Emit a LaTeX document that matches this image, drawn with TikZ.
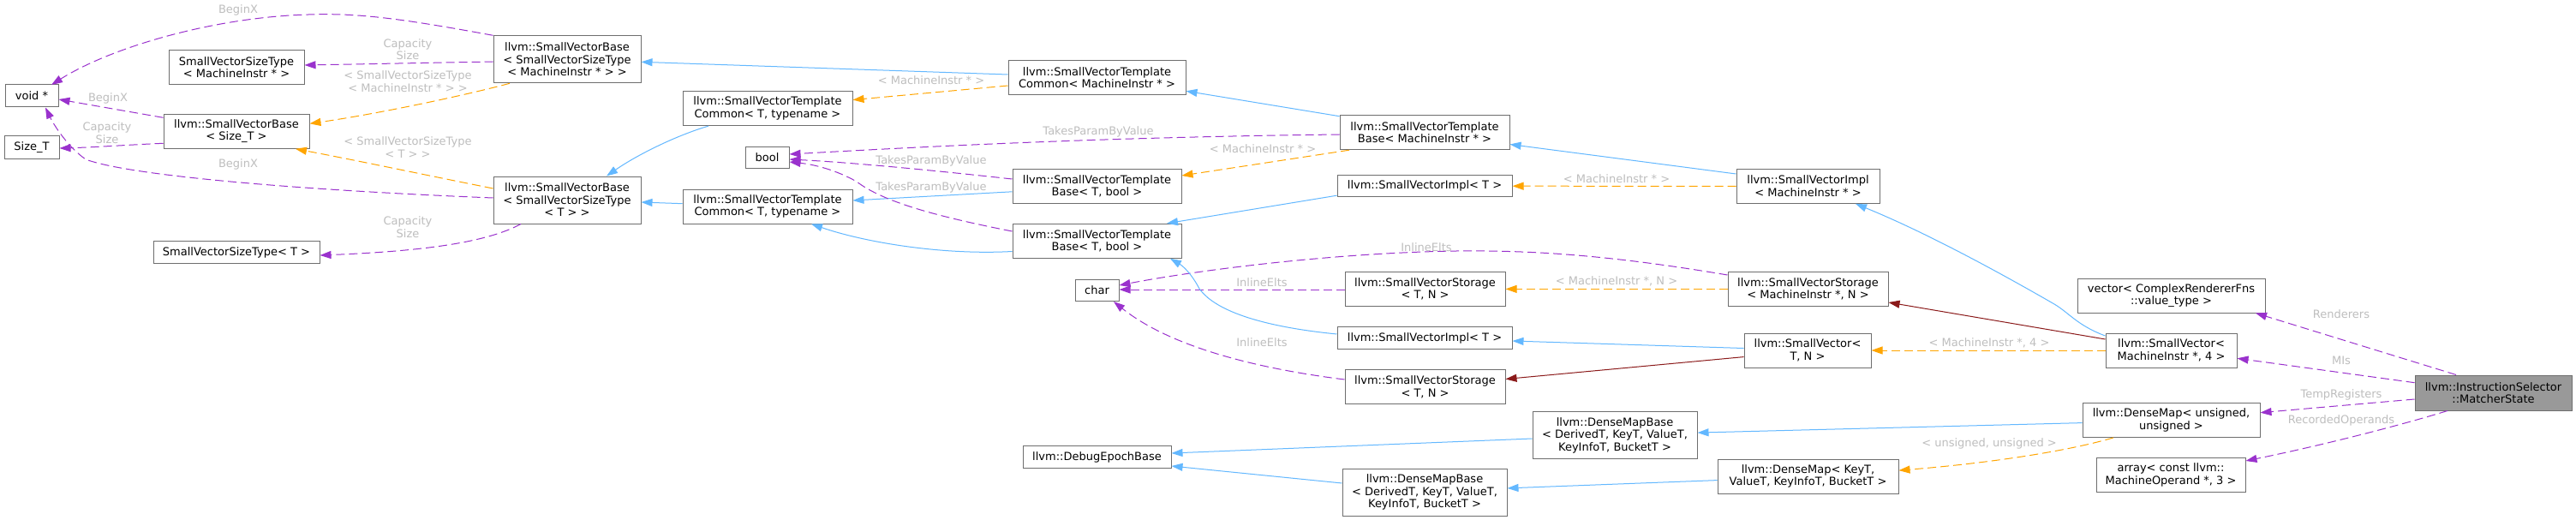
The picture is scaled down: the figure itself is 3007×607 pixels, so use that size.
\documentclass[tikz,border=0pt]{standalone}
\usepackage{fontspec}
\newfontfamily\dvs{DejaVu Sans}
\usetikzlibrary{arrows.meta,calc}
\definecolor{cpurple}{HTML}{9A32CD}
\definecolor{corange}{HTML}{FFA500}
\definecolor{cblue}{HTML}{63B8FF}
\definecolor{cred}{HTML}{8B1A1A}
\definecolor{clabel}{HTML}{BEBEBE}
\definecolor{cborder}{HTML}{6E6E6E}
\definecolor{croot}{HTML}{999999}
\begin{document}
\begin{tikzpicture}[x=1pt,y=-1pt,
  box/.style={draw=cborder, line width=1pt, fill=white, inner sep=0pt, align=center,
    font=\dvs\fontsize{13}{14.5}\selectfont, text=black},
  rootbox/.style={box, fill=croot},
  lbl/.style={font=\dvs\fontsize{13}{14.5}\selectfont, text=clabel, align=center, inner sep=0pt},
  edgebase/.style={line width=1pt, -{Triangle[length=13pt,width=9pt]}},
  member/.style={edgebase, cpurple, dash pattern=on 10pt off 5pt},
  tmpl/.style={edgebase, corange, dash pattern=on 10pt off 5pt},
  inherit/.style={edgebase, cblue},
  priv/.style={edgebase, cred},
]
\fill[white] (0,0) rectangle (3007,607);
\useasboundingbox (0,0) rectangle (3007,607);

% ---------- nodes ----------
\node[box, minimum width=62pt, minimum height=26pt] (voidp) at (37,112) {void *};
\node[box, minimum width=64pt, minimum height=26pt] (sizet) at (37,172) {Size\_T};
\node[box, minimum width=158pt, minimum height=40pt] (svstmi) at (276,78.5) {SmallVectorSizeType\\< MachineInstr * >};
\node[box, minimum width=170pt, minimum height=40pt] (svbsize) at (276,153.3) {llvm::SmallVectorBase\\< Size\_T >};
\node[box, minimum width=194pt, minimum height=25.5pt] (svstt) at (276,294.7) {SmallVectorSizeType< T >};
\node[box, minimum width=172pt, minimum height=55pt] (svbmi) at (662,69.3) {llvm::SmallVectorBase\\< SmallVectorSizeType\\< MachineInstr * > >};
\node[box, minimum width=198pt, minimum height=40pt] (svtct1) at (896,126.6) {llvm::SmallVectorTemplate\\Common< T, typename >};
\node[box, minimum width=51pt, minimum height=25.5pt] (bool) at (895.5,184) {bool};
\node[box, minimum width=172pt, minimum height=55pt] (svbt) at (662,233.5) {llvm::SmallVectorBase\\< SmallVectorSizeType\\< T > >};
\node[box, minimum width=198pt, minimum height=40pt] (svtct2) at (896,241) {llvm::SmallVectorTemplate\\Common< T, typename >};
\node[box, minimum width=207pt, minimum height=40pt] (svtcmi) at (1280.5,90.8) {llvm::SmallVectorTemplate\\Common< MachineInstr * >};
\node[box, minimum width=197pt, minimum height=40pt] (svtbt1) at (1280.5,217.4) {llvm::SmallVectorTemplate\\Base< T, bool >};
\node[box, minimum width=197pt, minimum height=40pt] (svtbt2) at (1280.5,281.3) {llvm::SmallVectorTemplate\\Base< T, bool >};
\node[box, minimum width=51pt, minimum height=25.5pt] (char) at (1280.5,338.8) {char};
\node[box, minimum width=173pt, minimum height=25.5pt] (debug) at (1280.5,533.5) {llvm::DebugEpochBase};
\node[box, minimum width=198pt, minimum height=40pt] (svtbmi) at (1663,154.7) {llvm::SmallVectorTemplate\\Base< MachineInstr * >};
\node[box, minimum width=204pt, minimum height=25.5pt] (svimplt1) at (1663,217.2) {llvm::SmallVectorImpl< T >};
\node[box, minimum width=187pt, minimum height=40pt] (svstort1) at (1663.5,337.4) {llvm::SmallVectorStorage\\< T, N >};
\node[box, minimum width=204pt, minimum height=25.5pt] (svimplt2) at (1663,394.7) {llvm::SmallVectorImpl< T >};
\node[box, minimum width=187pt, minimum height=40pt] (svstort2) at (1663.5,451.8) {llvm::SmallVectorStorage\\< T, N >};
\node[box, minimum width=192pt, minimum height=55pt] (dmb1) at (1885,508.1) {llvm::DenseMapBase\\< DerivedT, KeyT, ValueT,\\KeyInfoT, BucketT >};
\node[box, minimum width=192pt, minimum height=55pt] (dmb2) at (1663,574.9) {llvm::DenseMapBase\\< DerivedT, KeyT, ValueT,\\KeyInfoT, BucketT >};
\node[box, minimum width=167pt, minimum height=40pt] (svimplmi) at (2110.5,217.4) {llvm::SmallVectorImpl\\< MachineInstr * >};
\node[box, minimum width=187pt, minimum height=40pt] (svstormi) at (2110.5,337.4) {llvm::SmallVectorStorage\\< MachineInstr *, N >};
\node[box, minimum width=148pt, minimum height=40pt] (svtn) at (2110,409) {llvm::SmallVector<\\T, N >};
\node[box, minimum width=219pt, minimum height=40pt] (vec) at (2534.5,345) {vector< ComplexRendererFns\\::value\_type >};
\node[box, minimum width=153pt, minimum height=40pt] (svmi4) at (2534.5,409) {llvm::SmallVector<\\MachineInstr *, 4 >};
\node[box, minimum width=207pt, minimum height=40pt] (dmu) at (2534.5,490.4) {llvm::DenseMap< unsigned,\\unsigned >};
\node[box, minimum width=211pt, minimum height=40pt] (dmk) at (2110.5,556.1) {llvm::DenseMap< KeyT,\\ValueT, KeyInfoT, BucketT >};
\node[box, minimum width=174pt, minimum height=40pt] (arr) at (2534,554.6) {array< const llvm::\\MachineOperand *, 3 >};
\node[rootbox, minimum width=183pt, minimum height=41pt] (ms) at (2910.5,458.5) {llvm::InstructionSelector\\::MatcherState};

% ---------- edges ----------
\draw[member] (svbmi.north west) .. controls (470,22) and (420,15) .. (360,17) .. controls (250,20) and (130,55) .. ($(voidp.center)+(23,-13)$);
\draw[member] ($(svbmi.west)+(0,2.7)$) -- ($(svstmi.east)+(0,-2.5)$);
\draw[tmpl] ($(svbmi.south)+(-67,0)$) .. controls (540,112) and (440,133) .. ($(svbsize.east)+(0,-9)$);
\draw[tmpl] ($(svbt.west)+(0,-13.5)$) .. controls (500,205) and (420,188) .. ($(svbsize.south)+(69,0)$);
\draw[member] ($(svbsize.west)+(0,-16)$) -- ($(voidp.east)+(0,4)$);
\draw[member] ($(svbsize.west)+(0,14)$) .. controls (150,169) and (110,172) .. ($(sizet.east)+(0,1)$);
\draw[member] ($(svbt.west)+(0,-2.5)$) .. controls (350,222) and (150,205) .. (100,186) .. controls (80,172) and (64,148) .. ($(voidp.south)+(16,0)$);
\draw[member] ($(svbt.south)+(-54,0)$) .. controls (570,282) and (500,293) .. ($(svstt.east)+(0,3.3)$);
\draw[inherit] ($(svtct1.south)+(-69,0)$) .. controls (790,158) and (745,180) .. ($(svbt.north)+(46,0)$);
\draw[inherit] ($(svtct2.west)+(0,-3.3)$) -- ($(svbt.east)+(0,2.5)$);
\draw[inherit] ($(svtcmi.west)+(0,-3.8)$) -- ($(svbmi.east)+(0,3)$);
\draw[tmpl] ($(svtcmi.west)+(0,9.2)$) -- ($(svtct1.east)+(0,-10)$);
\draw[inherit] ($(svtbmi.west)+(0,-19)$) -- ($(svtcmi.east)+(0,15.5)$);
\draw[member] ($(svtbmi.west)+(0,2.3)$) .. controls (1300,160) and (1100,170) .. ($(bool.east)+(0,-4)$);
\draw[tmpl] ($(svtbmi.south)+(-88,0)$) -- ($(svtbt1.east)+(0,-12.4)$);
\draw[member] ($(svtbt1.west)+(0,-8.4)$) .. controls (1100,200) and (1000,190) .. ($(bool.east)+(0,2)$);
\draw[inherit] ($(svtbt1.west)+(0,6.4)$) -- ($(svtct2.east)+(0,-7)$);
\draw[member] ($(svtbt2.west)+(0,-11.3)$) .. controls (1090,252) and (1030,235) .. (1000,212) .. controls (975,198) and (950,192) .. ($(bool.east)+(0,5)$);
\draw[inherit] ($(svtbt2.west)+(0,12.2)$) .. controls (1100,298) and (1010,283) .. ($(svtct2.south)+(51,0)$);
\draw[inherit] ($(svimplt1.west)+(0,11)$) -- ($(svtbt2.north)+(81.5,0)$);
\draw[inherit] ($(svimplmi.west)+(0,-14.4)$) -- ($(svtbmi.east)+(0,13.8)$);
\draw[tmpl] (svimplmi.west) -- (svimplt1.east);
\draw[member] ($(svstormi.west)+(0,-16.4)$) .. controls (1880,298) and (1790,292) .. (1700,293) .. controls (1560,295) and (1400,315) .. ($(char.east)+(0,-5.8)$);
\draw[tmpl] (svstormi.west) -- (svstort1.east);
\draw[member] ($(svstort1.west)+(0,0.6)$) -- ($(char.east)+(0,-0.8)$);
\draw[inherit] ($(svtn.west)+(0,-2.5)$) -- ($(svimplt2.east)+(0,3.3)$);
\draw[priv] ($(svtn.west)+(0,7.6)$) -- ($(svstort2.east)+(0,-9.3)$);
\draw[inherit] ($(svimplt2.west)+(0,-4.7)$) .. controls (1480,382) and (1420,365) .. (1400,337) .. controls (1390,318) and (1380,310) .. ($(svtbt2.south)+(85.5,0)$);
\draw[member] ($(svstort2.west)+(0,-8.8)$) .. controls (1450,428) and (1360,400) .. ($(char.south)+(19.5,0)$);
\draw[inherit] ($(svmi4.west)+(0,-17)$) .. controls (2425,380) and (2415,365) .. (2398,355) .. controls (2320,310) and (2240,268) .. ($(svimplmi.south)+(55.5,0)$);
\draw[priv] ($(svmi4.west)+(0,-13)$) -- ($(svstormi.east)+(0,15.6)$);
\draw[tmpl] (svmi4.west) -- (svtn.east);
\draw[inherit] ($(dmb1.west)+(0,3.9)$) -- ($(debug.east)+(0,-4.5)$);
\draw[inherit] ($(dmb2.west)+(0,-10.9)$) -- ($(debug.east)+(0,10.5)$);
\draw[inherit] ($(dmu.west)+(0,3.2)$) -- ($(dmb1.east)+(0,-3)$);
\draw[tmpl] ($(dmu.south)+(-67.5,0)$) .. controls (2420,525) and (2330,540) .. ($(dmk.east)+(0,-7)$);
\draw[inherit] ($(dmk.west)+(0,4.5)$) -- ($(dmb2.east)+(0,-5)$);
\draw[member] ($(ms.north)+(-43.5,0)$) -- ($(vec.south)+(98.5,0)$);
\draw[member] ($(ms.west)+(0,-11.8)$) -- ($(svmi4.east)+(0,9.3)$);
\draw[member] ($(ms.west)+(0,7.5)$) -- ($(dmu.east)+(0,-8.7)$);
\draw[member] ($(ms.south)+(-53.5,0)$) .. controls (2790,500) and (2700,522) .. ($(arr.east)+(0,-16.6)$);

% ---------- labels ----------
\node[lbl] (l1) at (278,11.6) {BeginX};
\node[lbl] (l2) at (476,57.5) {Capacity\\Size};
\node[lbl] (l3) at (476,95) {< SmallVectorSizeType\\< MachineInstr * > >};
\node[lbl] (l4) at (476,172) {< SmallVectorSizeType\\< T > >};
\node[lbl] (l5) at (126,114.6) {BeginX};
\node[lbl] (l6) at (125,155.3) {Capacity\\Size};
\node[lbl] (l7) at (278,191.6) {BeginX};
\node[lbl] (l8) at (476,265.4) {Capacity\\Size};
\node[lbl] (l12) at (1087,94) {< MachineInstr * >};
\node[lbl] (l14) at (1282,154) {TakesParamByValue};
\node[lbl] (l15) at (1474,174) {< MachineInstr * >};
\node[lbl] (l16) at (1087,187.5) {TakesParamByValue};
\node[lbl] (l18) at (1087,218.7) {TakesParamByValue};
\node[lbl] (l22) at (1887,208.3) {< MachineInstr * >};
\node[lbl] (l23) at (1665,288.4) {InlineElts};
\node[lbl] (l24) at (1887,328.3) {< MachineInstr *, N >};
\node[lbl] (l25) at (1473,330) {InlineElts};
\node[lbl] (l29) at (1473,399.5) {InlineElts};
\node[lbl] (l32) at (2322,400.7) {< MachineInstr *, 4 >};
\node[lbl] (l36) at (2322,518) {< unsigned, unsigned >};
\node[lbl] (l38) at (2733,366.7) {Renderers};
\node[lbl] (l39) at (2733,420.7) {MIs};
\node[lbl] (l40) at (2733,460.7) {TempRegisters};
\node[lbl] (l41) at (2733,490.7) {RecordedOperands};
\end{tikzpicture}
\end{document}
